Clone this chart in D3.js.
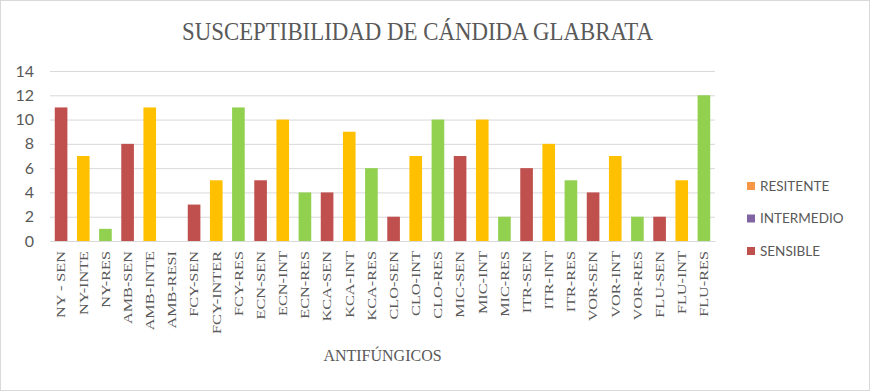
<!DOCTYPE html>
<html>
<head>
<meta charset="utf-8">
<script src="https://cdn.jsdelivr.net/npm/d3@7"></script>
<style>
  body { margin: 0; background: #fff; }
</style>
</head>
<body>
<div id="chart"></div>
<script>
// DATA
var categories = ['NY - SEN', 'NY-INTE', 'NY-RES', 'AMB-SEN', 'AMB-INTE', 'AMB-RESI',
  'FCY-SEN', 'FCY-INTER', 'FCY-RES', 'ECN-SEN', 'ECN-INT', 'ECN-RES',
  'KCA-SEN', 'KCA-INT', 'KCA-RES', 'CLO-SEN', 'CLO-INT', 'CLO-RES',
  'MIC-SEN', 'MIC-INT', 'MIC-RES', 'ITR-SEN', 'ITR-INT', 'ITR-RES',
  'VOR-SEN', 'VOR-INT', 'VOR-RES', 'FLU-SEN', 'FLU-INT', 'FLU-RES']
var values = [11, 7, 1, 8, 11, 0,
  3, 5, 11, 5, 10, 4,
  4, 9, 6, 2, 7, 10,
  7, 10, 2, 6, 8, 5,
  4, 7, 2, 2, 5, 12]
// kind of each bar: S = sensible, I = intermedio, R = resistente
var kinds = ['S', 'I', 'R', 'S', 'I', 'R',
  'S', 'I', 'R', 'S', 'I', 'R',
  'S', 'I', 'R', 'S', 'I', 'R',
  'S', 'I', 'R', 'S', 'I', 'R',
  'S', 'I', 'R', 'S', 'I', 'R']
var yTicks = [0, 2, 4, 6, 8, 10, 12, 14]
var legendLabels = ['RESITENTE', 'INTERMEDIO', 'SENSIBLE']

// GLOBAL
var width = 870
var height = 391
var margin = {top: 71, left: 50, bottom: 150, right: 155}
var barColour = {S: '#C0504D', I: '#FFC000', R: '#92D050'}
var legendColour = ['#F79646', '#8064A2', '#C0504D']
var textGrey = '#595959'
var serif = 'Liberation Serif'
var sans = 'Lato'

var svg = d3.select('#chart').append('svg')
  .attr('width', width)
  .attr('height', height)

svg.append('rect')
  .attr('x', 0.5).attr('y', 0.5)
  .attr('width', width - 1).attr('height', height - 1)
  .style('fill', 'white')
  .style('stroke', '#D9D9D9')

var xMap = d3.scaleBand()
  .domain(categories)
  .range([margin.left, width - margin.right])
  .paddingInner(0.43)
  .paddingOuter(0.215)

var yMap = d3.scaleLinear()
  .domain([0, 14])
  .range([height - margin.bottom, margin.top])

// grid
var yAxis = d3.axisLeft(yMap)
  .tickValues(yTicks)
  .tickSize(-(width - margin.right - margin.left))
  .tickPadding(16)

var gY = svg.append('g')
  .attr('transform', 'translate(' + [margin.left, 0] + ')')
  .call(yAxis)
gY.select('.domain').remove()
gY.selectAll('line').style('stroke', '#D9D9D9').style('stroke-width', 1)
gY.selectAll('text')
  .attr('font-family', sans)
  .style('font-size', '16px')
  .style('fill', textGrey)

// bars
var data = categories.map((c, i) => ({name: c, value: values[i], kind: kinds[i]}))
svg.append('g').selectAll('rect')
  .data(data)
  .enter().append('rect')
  .attr('x', d => xMap(d.name))
  .attr('y', d => yMap(d.value))
  .attr('width', xMap.bandwidth())
  .attr('height', d => yMap(0) - yMap(d.value))
  .style('fill', d => barColour[d.kind])

// x axis
var xAxis = d3.axisBottom(xMap).tickSize(0).tickPadding(0)
var gX = svg.append('g')
  .attr('transform', 'translate(' + [0, yMap(0)] + ')')
  .call(xAxis)
gX.select('.domain').style('stroke', '#D9D9D9')
gX.selectAll('text')
  .attr('transform', 'rotate(-90) scale(1.3,1)')
  .attr('x', -10 / 1.3)
  .attr('y', 0)
  .attr('dy', '0.35em')
  .attr('font-family', serif)
  .style('text-anchor', 'end')
  .style('font-size', '12.5px')
  .style('fill', textGrey)

// titles
svg.append('text')
  .attr('x', 417.5)
  .attr('y', 39.5)
  .attr('font-family', serif)
  .attr('textLength', 471)
  .attr('lengthAdjust', 'spacingAndGlyphs')
  .style('text-anchor', 'middle')
  .style('font-size', '26px')
  .style('fill', textGrey)
  .text('SUSCEPTIBILIDAD  DE CÁNDIDA GLABRATA')

svg.append('text')
  .attr('x', (margin.left + width - margin.right) / 2)
  .attr('y', 361)
  .attr('font-family', serif)
  .style('text-anchor', 'middle')
  .style('font-size', '16px')
  .style('fill', textGrey)
  .text('ANTIFÚNGICOS')

// legend
var gLeg = svg.append('g')
  .attr('transform', 'translate(' + [747, 186] + ')')
var item = gLeg.selectAll('g')
  .data(legendLabels)
  .enter().append('g')
  .attr('transform', (d, i) => 'translate(' + [0, i * 32.5] + ')')
item.append('rect')
  .attr('x', 0).attr('y', -4)
  .attr('width', 8).attr('height', 8)
  .style('fill', (d, i) => legendColour[i])
item.append('text')
  .attr('x', 13)
  .attr('y', 0)
  .attr('dy', '0.35em')
  .attr('font-family', sans)
  .style('font-size', '13.5px')
  .style('fill', textGrey)
  .text(d => d)
</script>
</body>
</html>
